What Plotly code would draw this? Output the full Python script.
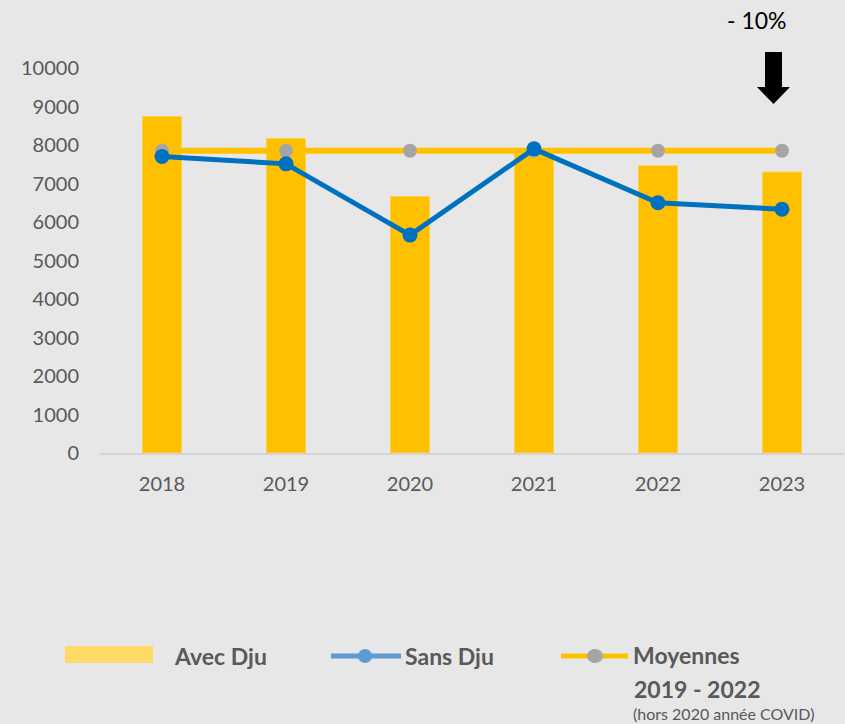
import plotly.graph_objects as go

years = ["2018", "2019", "2020", "2021", "2022", "2023"]
avec_dju = [8740, 8170, 6660, 7780, 7460, 7300]
sans_dju = [7700, 7510, 5660, 7900, 6500, 6330]
moyennes = [7850, 7850, 7850, 7850, 7850, 7850]
y_ticks = [0, 1000, 2000, 3000, 4000, 5000, 6000, 7000, 8000, 9000, 10000]
y_tick_labels = [str(v) for v in y_ticks]

W, H = 845, 724
L, R, T, B = 100, 1, 68, 271
pw, ph = W - L - R, H - T - B

def px(x):
    return (x - L) / pw

def py(y):
    return (H - B - y) / ph

FONT = "Lato, 'Open Sans', sans-serif"
GREY_TXT = "#595959"

fig = go.Figure()
fig.add_trace(go.Bar(x=years, y=avec_dju, name="Avec Dju", marker=dict(color="#FFC000", line=dict(width=1, color="#FFD24D")), width=0.315))
fig.add_trace(go.Scatter(x=years, y=moyennes, name="Moyennes", mode="lines+markers",
                         line=dict(color="#FFC000", width=6),
                         marker=dict(color="#A5A5A5", size=14)))
fig.add_trace(go.Scatter(x=years, y=sans_dju, name="Sans Dju", mode="lines+markers",
                         line=dict(color="#0070C0", width=5),
                         marker=dict(color="#0070C0", size=15)))

shapes = []
annotations = []

# arrow
shapes.append(dict(type="rect", xref="paper", yref="paper", x0=px(765), x1=px(782), y0=py(88), y1=py(52),
                   fillcolor="black", line=dict(width=0)))
shapes.append(dict(type="path", xref="paper", yref="paper",
                   path=f"M {px(757)} {py(87)} L {px(790)} {py(87)} L {px(773.5)} {py(104)} Z",
                   fillcolor="black", line=dict(width=0)))
annotations.append(dict(text="- 10%", xref="paper", yref="paper", x=px(757), y=py(20), showarrow=False,
                        xanchor="center", yanchor="middle", font=dict(family=FONT, size=23, color="black")))

LEG = 23
# legend: Avec Dju
shapes.append(dict(type="rect", xref="paper", yref="paper", x0=px(65), x1=px(153), y0=py(663), y1=py(646),
                   fillcolor="#FFD966", line=dict(width=0)))
annotations.append(dict(text="<b>Avec Dju</b>", xref="paper", yref="paper", x=px(172), y=py(656), showarrow=False,
                        xanchor="left", yanchor="middle", font=dict(family=FONT, size=LEG, color=GREY_TXT)))
# legend: Sans Dju
shapes.append(dict(type="line", xref="paper", yref="paper", x0=px(331), x1=px(401), y0=py(656), y1=py(656),
                   line=dict(color="#5B9BD5", width=5)))
shapes.append(dict(type="circle", xref="paper", yref="paper", x0=px(358), x1=px(372), y0=py(663), y1=py(649),
                   fillcolor="#5B9BD5", line=dict(width=0)))
annotations.append(dict(text="<b>Sans Dju</b>", xref="paper", yref="paper", x=px(403), y=py(656), showarrow=False,
                        xanchor="left", yanchor="middle", font=dict(family=FONT, size=LEG, color=GREY_TXT)))
# legend: Moyennes
shapes.append(dict(type="line", xref="paper", yref="paper", x0=px(561), x1=px(628), y0=py(656), y1=py(656),
                   line=dict(color="#FFC000", width=5)))
shapes.append(dict(type="circle", xref="paper", yref="paper", x0=px(587), x1=px(603), y0=py(663), y1=py(649),
                   fillcolor="#A5A5A5", line=dict(width=0)))
annotations.append(dict(text="<b>Moyennes</b>", xref="paper", yref="paper", x=px(631), y=py(655), showarrow=False,
                        xanchor="left", yanchor="middle", font=dict(family=FONT, size=LEG, color=GREY_TXT)))
annotations.append(dict(text="<b>2019 - 2022</b>", xref="paper", yref="paper", x=px(632), y=py(689), showarrow=False,
                        xanchor="left", yanchor="middle", font=dict(family=FONT, size=LEG, color=GREY_TXT)))
annotations.append(dict(text="(hors 2020 année COVID)", xref="paper", yref="paper", x=px(631), y=py(713), showarrow=False,
                        xanchor="left", yanchor="middle", font=dict(family=FONT, size=16, color=GREY_TXT)))

fig.update_layout(
    width=W, height=H,
    margin=dict(l=L, r=R, t=T, b=B, pad=0),
    paper_bgcolor="#E7E7E7", plot_bgcolor="#E7E7E7",
    showlegend=False,
    bargap=0.685,
    font=dict(family=FONT, size=20, color=GREY_TXT),
    xaxis=dict(showgrid=False, showline=True, linecolor="#D4D4D4", linewidth=1.5, ticks="",
               tickfont=dict(family=FONT, size=20, color=GREY_TXT), ticklabelstandoff=12),
    yaxis=dict(range=[0, 10000], tickvals=y_ticks, ticktext=y_tick_labels, showgrid=False, zeroline=False,
               showline=False, ticks="",
               tickfont=dict(family=FONT, size=20, color=GREY_TXT), ticklabelstandoff=20),
    shapes=shapes, annotations=annotations,
)
fig.write_html("out.html", config={"displayModeBar": False},
               post_script="document.body.style.margin='0';document.body.style.overflow='hidden';document.body.style.background='#E7E7E7';")
